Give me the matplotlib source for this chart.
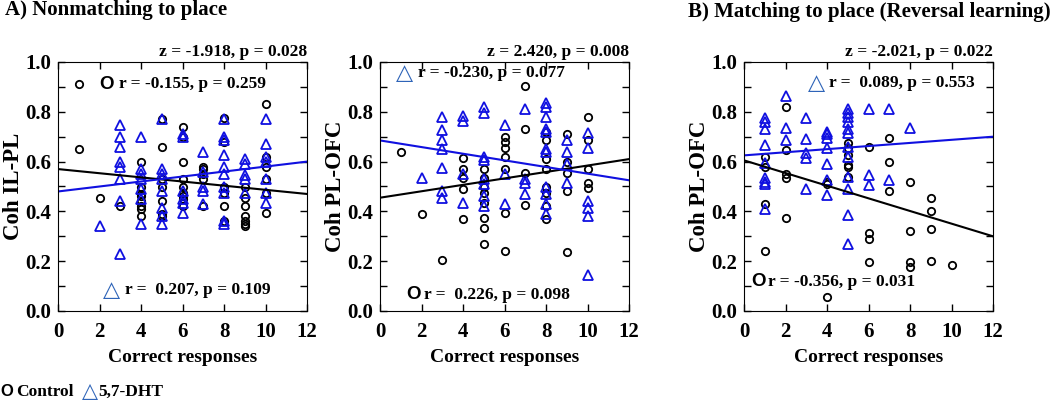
import numpy as np
import matplotlib.pyplot as plt
from matplotlib.ticker import MultipleLocator

plt.rcParams['font.family'] = ['Liberation Serif', 'DejaVu Sans']
plt.rcParams['font.weight'] = 'bold'

#----------- Panel A1: Coh IL-PL (Nonmatching to place) -----------
a1_ctrl_x = [1, 1, 2, 3, 4, 4, 4, 4, 4, 4, 4, 4, 5, 5, 5, 5, 5, 5, 5,
             6, 6, 6, 6, 6, 6, 6, 6, 6, 7, 7, 7, 7, 7, 8, 8, 8, 8, 8, 8,
             9, 9, 9, 9, 9, 9, 9, 10, 10, 10, 10, 10, 10]
a1_ctrl_y = [0.91, 0.65, 0.455, 0.42, 0.60, 0.50, 0.47, 0.46, 0.44, 0.42, 0.41, 0.38,
             0.77, 0.66, 0.53, 0.50, 0.44, 0.39, 0.38,
             0.74, 0.70, 0.60, 0.53, 0.50, 0.475, 0.46, 0.45, 0.42,
             0.58, 0.57, 0.55, 0.53, 0.42,
             0.775, 0.68, 0.50, 0.475, 0.42, 0.36,
             0.50, 0.455, 0.42, 0.38, 0.36, 0.35, 0.34,
             0.83, 0.62, 0.58, 0.53, 0.475, 0.395]
a1_dht_x = [2, 3, 3, 3, 3, 3, 3, 3, 3, 4, 4, 4, 4, 4, 4, 4,
            5, 5, 5, 5, 5, 5, 5, 5, 6, 6, 6, 6, 6, 6, 7, 7, 7, 7, 7,
            8, 8, 8, 8, 8, 8, 8, 8, 8, 8, 9, 9, 9, 9, 9,
            10, 10, 10, 10, 10, 10, 10]
a1_dht_y = [0.34, 0.745, 0.70, 0.66, 0.60, 0.58, 0.53, 0.44, 0.23,
            0.70, 0.57, 0.55, 0.53, 0.49, 0.45, 0.35,
            0.77, 0.57, 0.55, 0.53, 0.48, 0.415, 0.38, 0.35,
            0.71, 0.70, 0.48, 0.45, 0.435, 0.395,
            0.64, 0.56, 0.50, 0.48, 0.43,
            0.77, 0.70, 0.685, 0.625, 0.58, 0.55, 0.50, 0.475, 0.36, 0.35,
            0.61, 0.59, 0.545, 0.53, 0.475,
            0.77, 0.67, 0.62, 0.60, 0.53, 0.475, 0.435]

#----------- Panel A2: Coh PL-OFC (Nonmatching to place) -----------
a2_ctrl_x = [1, 2, 3, 4, 4, 4, 4, 4, 5, 5, 5, 5, 5, 5, 5, 5,
             6, 6, 6, 6, 6, 6, 6, 7, 7, 7, 7, 8, 8, 8, 8, 8, 8, 8, 8,
             9, 9, 9, 9, 9, 10, 10, 10, 10, 10]
a2_ctrl_y = [0.64, 0.39, 0.205, 0.615, 0.57, 0.535, 0.49, 0.37,
             0.57, 0.535, 0.50, 0.475, 0.435, 0.375, 0.335, 0.27,
             0.70, 0.68, 0.655, 0.62, 0.57, 0.395, 0.24,
             0.905, 0.73, 0.555, 0.425,
             0.72, 0.685, 0.61, 0.57, 0.50, 0.475, 0.42, 0.37,
             0.71, 0.60, 0.555, 0.48, 0.235,
             0.78, 0.685, 0.57, 0.515, 0.495]
a2_dht_x = [2, 3, 3, 3, 3, 3, 3, 3, 4, 4, 4, 4, 5, 5, 5, 5, 5, 5, 5, 5,
            6, 6, 6, 7, 7, 7, 7, 8, 8, 8, 8, 8, 8, 8, 8, 8, 8, 8,
            9, 9, 9, 9, 10, 10, 10, 10, 10, 10]
a2_dht_y = [0.535, 0.78, 0.725, 0.685, 0.65, 0.575, 0.48, 0.455,
            0.785, 0.765, 0.55, 0.435,
            0.82, 0.795, 0.62, 0.605, 0.53, 0.51, 0.46, 0.42,
            0.745, 0.55, 0.43,
            0.81, 0.53, 0.515, 0.47,
            0.835, 0.82, 0.78, 0.73, 0.72, 0.65, 0.64, 0.50, 0.47, 0.43, 0.39,
            0.685, 0.64, 0.59, 0.515,
            0.715, 0.655, 0.44, 0.415, 0.38, 0.145]

#----------- Panel B: Coh PL-OFC (Reversal learning) -----------
b_ctrl_x = [1, 1, 1, 1, 2, 2, 2, 2, 2, 4, 4, 4, 5, 5, 5, 5, 5, 5,
            6, 6, 6, 6, 7, 7, 7, 8, 8, 8, 8, 9, 9, 9, 9, 10]
b_ctrl_y = [0.62, 0.58, 0.43, 0.24, 0.82, 0.645, 0.55, 0.535, 0.375,
            0.52, 0.51, 0.055, 0.675, 0.655, 0.625, 0.585, 0.58, 0.54,
            0.66, 0.315, 0.29, 0.195, 0.695, 0.60, 0.48,
            0.52, 0.32, 0.195, 0.175, 0.455, 0.40, 0.33, 0.20, 0.185]
b_dht_x = [1, 1, 1, 1, 1, 1, 1, 1, 1, 2, 2, 2, 3, 3, 3, 3, 3,
           4, 4, 4, 4, 4, 4, 4, 5, 5, 5, 5, 5, 5, 5, 5, 5, 5, 5, 5,
           6, 6, 6, 7, 7, 8]
b_dht_y = [0.775, 0.76, 0.73, 0.665, 0.595, 0.535, 0.52, 0.51, 0.41,
           0.865, 0.735, 0.685, 0.775, 0.69, 0.635, 0.615, 0.49,
           0.72, 0.71, 0.695, 0.655, 0.59, 0.525, 0.465,
           0.81, 0.795, 0.78, 0.76, 0.73, 0.715, 0.66, 0.62, 0.54, 0.49, 0.385, 0.27,
           0.81, 0.545, 0.505, 0.81, 0.525, 0.735]

# regression lines (value at x=0, value at x=12)
a1_ctrl_fit = [0.57, 0.47]
a1_dht_fit = [0.48, 0.60]
a2_ctrl_fit = [0.455, 0.61]
a2_dht_fit = [0.685, 0.525]
b_ctrl_fit = [0.605, 0.30]
b_dht_fit = [0.625, 0.70]

ylabels = ['Coh IL-PL', 'Coh PL-OFC', 'Coh PL-OFC']
z_texts = ['z = -1.918, p = 0.028', 'z = 2.420, p = 0.008', 'z = -2.021, p = 0.022']
ctrl_r = ['r = -0.155, p = 0.259', 'r =  0.226, p = 0.098', 'r = -0.356, p = 0.031']
dht_r = ['r =  0.207, p = 0.109', 'r = -0.230, p = 0.077', 'r =  0.089, p = 0.553']

BLUE = '#1010e0'
SYMBLUE = '#2e64b8'

fig = plt.figure(figsize=(10.52, 4.04), dpi=100)
lefts = [58, 380, 744]
axes = []
for l in lefts:
    axes.append(fig.add_axes([l / 1052, 1 - 311 / 404, 249 / 1052, 249 / 404]))

panels = [
    (a1_ctrl_x, a1_ctrl_y, a1_dht_x, a1_dht_y, a1_ctrl_fit, a1_dht_fit),
    (a2_ctrl_x, a2_ctrl_y, a2_dht_x, a2_dht_y, a2_ctrl_fit, a2_dht_fit),
    (b_ctrl_x, b_ctrl_y, b_dht_x, b_dht_y, b_ctrl_fit, b_dht_fit),
]

for i, ax in enumerate(axes):
    cx, cy, dx, dy, cfit, dfit = panels[i]
    ax.plot(cx, cy, 'o', mfc='none', mec='black', ms=5.3, mew=1.3)
    ax.plot(dx, dy, '^', mfc='none', mec=BLUE, ms=6.8, mew=1.3)
    ax.plot([0, 12], cfit, color='black', lw=1.5)
    ax.plot([0, 12], dfit, color=BLUE, lw=1.5)
    ax.set_xlim(0, 12)
    ax.set_ylim(0, 1)
    ax.xaxis.set_major_locator(MultipleLocator(2))
    ax.yaxis.set_major_locator(MultipleLocator(0.2))
    ax.yaxis.set_minor_locator(MultipleLocator(0.1))
    ax.yaxis.set_major_formatter(lambda v, p: '%.1f' % v)
    ax.tick_params(which='both', direction='in', top=True, right=True,
                   length=5, width=1, labelsize=15)
    ax.tick_params(axis='x', pad=8)
    ax.tick_params(axis='y', pad=5)
    for lab in ax.get_xticklabels() + ax.get_yticklabels():
        lab.set_fontweight('bold')
    ax.set_xlabel('Correct responses', fontsize=14, fontweight='bold', labelpad=5)
    ax.set_ylabel(ylabels[i], fontsize=16.5, fontweight='bold', labelpad=1)
    ax.text(1.0, 1.01, z_texts[i], transform=ax.transAxes, ha='right', va='bottom',
            fontsize=12.5, fontweight='bold')

# correlation annotations (symbol + text)
def note(ax, sym, sx, tx, y, txt):
    if sym == 'O':
        ax.text(sx, y, 'O', ha='center', va='center', fontsize=13.5, fontweight='bold',
                family='Liberation Sans', color='black')
    else:
        ax.text(sx, y, '\u25b3', ha='center', va='center', fontsize=16,
                family='DejaVu Sans', color=SYMBLUE)
    ax.text(tx, y, txt, ha='left', va='center', fontsize=12.5, fontweight='bold')

note(axes[0], 'O', 2.36, 2.95, 0.91, ctrl_r[0])
note(axes[0], 'T', 2.57, 3.25, 0.085, dht_r[0])
note(axes[1], 'T', 1.2, 1.85, 0.955, dht_r[1])
note(axes[1], 'O', 1.6, 2.1, 0.065, ctrl_r[1])
note(axes[2], 'T', 3.5, 4.1, 0.915, dht_r[2])
note(axes[2], 'O', 0.69, 1.15, 0.117, ctrl_r[2])

fig.text(5 / 1052, 1 - 10 / 404, 'A) Nonmatching to place', ha='left', va='center',
         fontsize=15, fontweight='bold')
fig.text(688 / 1052, 1 - 12 / 404, 'B) Matching to place (Reversal learning)', ha='left',
         va='center', fontsize=15, fontweight='bold')

# legend at bottom
fig.text(7 / 1052, 1 - 392 / 404, 'O', ha='center', va='center', fontsize=12,
         fontweight='bold', family='Liberation Sans')
fig.text(16 / 1052, 1 - 392 / 404, 'Control', ha='left', va='center', fontsize=12.5,
         fontweight='bold')
fig.text(90 / 1052, 1 - 391 / 404, '\u25b3', ha='center', va='center', fontsize=15,
         family='DejaVu Sans', color=SYMBLUE)
fig.text(98 / 1052, 1 - 392 / 404, '5,7-DHT', ha='left', va='center', fontsize=12.5,
         fontweight='bold')

fig.savefig('out.png', dpi=100)
